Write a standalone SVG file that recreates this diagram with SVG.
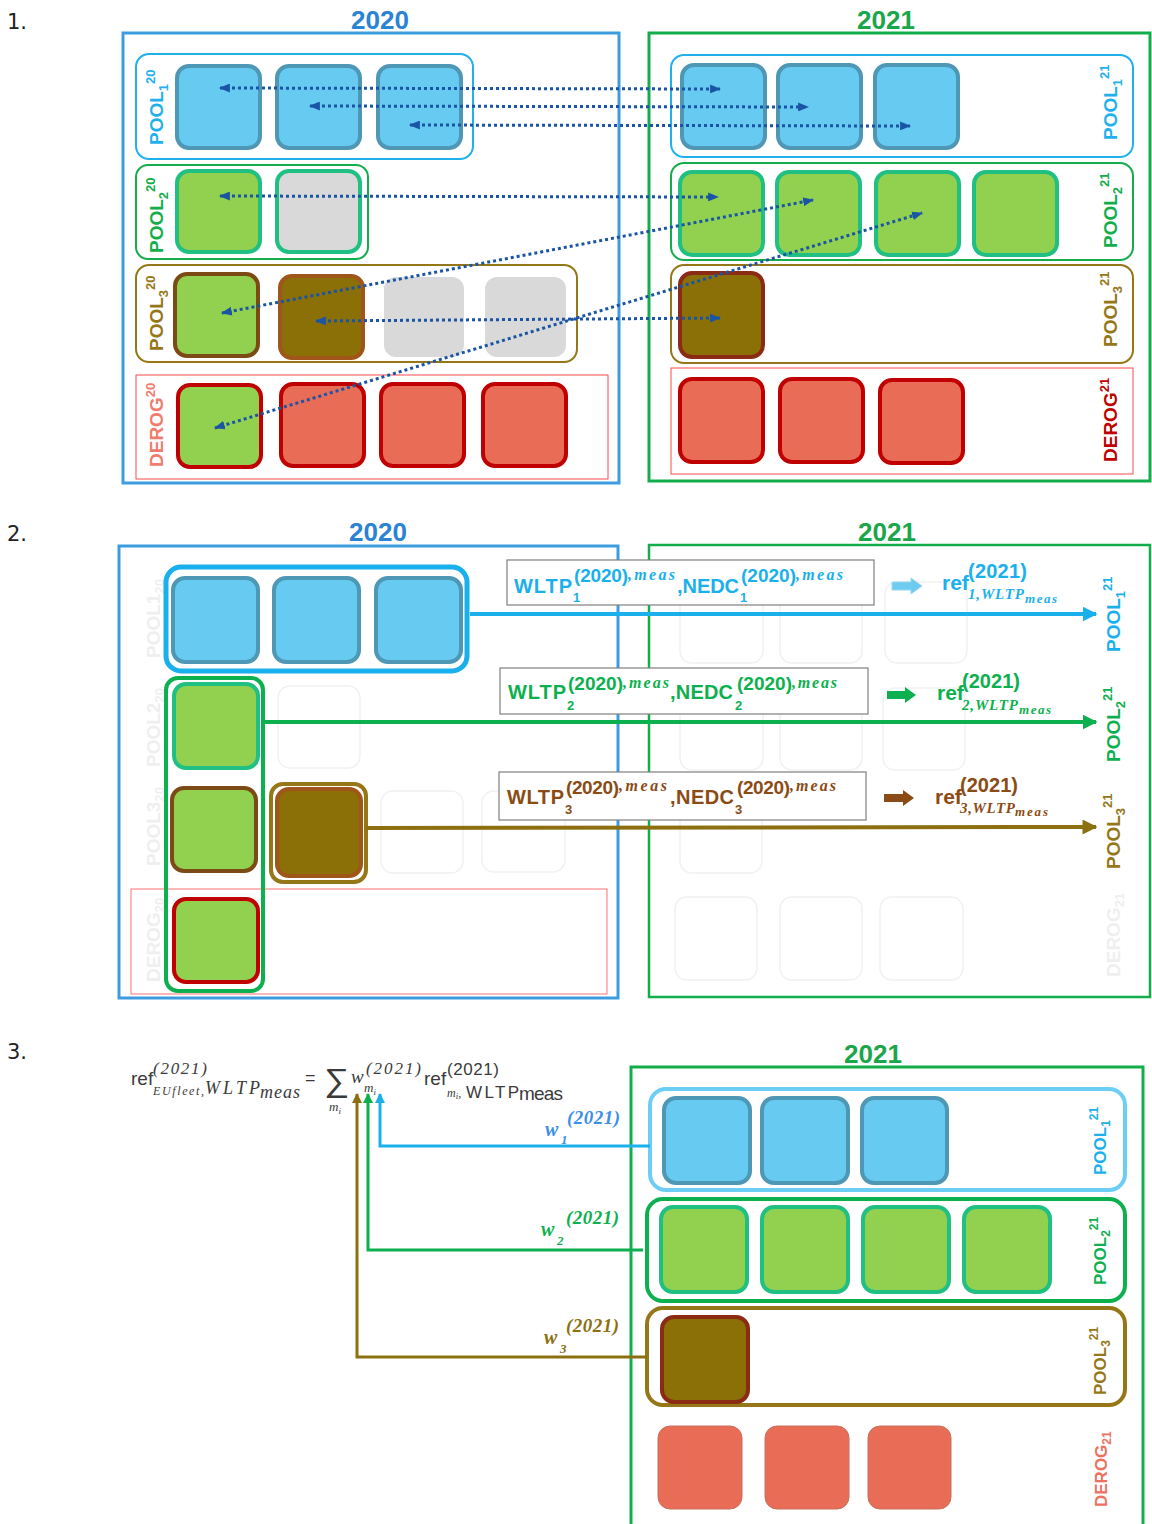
<svg xmlns="http://www.w3.org/2000/svg" width="1152" height="1524" viewBox="0 0 1152 1524">
<defs>
<style>
text{font-family:"Liberation Sans",Arial,sans-serif}
.num{font-family:"DejaVu Sans",sans-serif;font-size:21px;fill:#222}
.yr{font-size:26px;font-weight:bold}
.lbl{font-size:19px;font-weight:bold}
.lbl3{font-size:17px;font-weight:bold}
.sm{font-size:13px}
.sm3{font-size:12px}
.sqB{fill:#67caf1;stroke:#4e97b5;stroke-width:4}
.sqG{fill:#92d050;stroke:#20c083;stroke-width:4}
.sqGb{fill:#92d050;stroke:#7c4a14;stroke-width:4}
.sqGr{fill:#92d050;stroke:#c00000;stroke-width:4}
.sqGy{fill:#d9d9d9;stroke:#20c083;stroke-width:4}
.sqY{fill:#d9d9d9;stroke:none}
.sqBr{fill:#8a7006;stroke:#a0561a;stroke-width:4}
.sqBr2{fill:#8a7006;stroke:#8b2b14;stroke-width:4}
.sqR{fill:#e86c56;stroke:#c00000;stroke-width:4}
.sqR3{fill:#e86c56;stroke:#c8705c;stroke-width:1}
.faint{fill:none;stroke:#f1f1f1;stroke-width:1.5}
.ftxt{fill:#efefef}
.dot{fill:none;stroke:#1a55a5;stroke-width:3;stroke-dasharray:3 3;marker-start:url(#dh);marker-end:url(#dh)}
.mi{font-family:"Liberation Serif","DejaVu Serif",serif;font-style:italic;font-weight:bold}
.mr{font-family:"Liberation Serif","DejaVu Serif",serif;font-style:italic}
.fb{font-weight:bold}
.box{fill:#fff;stroke:#7f7f7f;stroke-width:1.2}
</style>
<marker id="dh" viewBox="0 0 10 8" refX="9" refY="4" markerWidth="11" markerHeight="9" markerUnits="userSpaceOnUse" orient="auto-start-reverse"><path d="M0,0L10,4L0,8z" fill="#1a55a5"/></marker>
<marker id="ab" viewBox="0 0 10 10" refX="9" refY="5" markerWidth="15" markerHeight="15" markerUnits="userSpaceOnUse" orient="auto"><path d="M0,0L10,5L0,10z" fill="#1ab0ec"/></marker>
<marker id="ag" viewBox="0 0 10 10" refX="9" refY="5" markerWidth="15" markerHeight="15" markerUnits="userSpaceOnUse" orient="auto"><path d="M0,0L10,5L0,10z" fill="#0db04f"/></marker>
<marker id="ao" viewBox="0 0 10 10" refX="9" refY="5" markerWidth="15" markerHeight="15" markerUnits="userSpaceOnUse" orient="auto"><path d="M0,0L10,5L0,10z" fill="#8c7010"/></marker>
<marker id="sb" viewBox="0 0 10 10" refX="9" refY="5" markerWidth="10" markerHeight="10" markerUnits="userSpaceOnUse" orient="auto"><path d="M0,0L10,5L0,10z" fill="#1ab0ec"/></marker>
<marker id="sg" viewBox="0 0 10 10" refX="9" refY="5" markerWidth="10" markerHeight="10" markerUnits="userSpaceOnUse" orient="auto"><path d="M0,0L10,5L0,10z" fill="#0db04f"/></marker>
<marker id="so" viewBox="0 0 10 10" refX="9" refY="5" markerWidth="10" markerHeight="10" markerUnits="userSpaceOnUse" orient="auto"><path d="M0,0L10,5L0,10z" fill="#8c7010"/></marker>
</defs>
<rect width="1152" height="1524" fill="#fff"/>

<!-- ============ SECTION 1 ============ -->
<g id="s1">
<text class="num" x="7" y="29">1.</text>
<text class="yr" x="380" y="29" text-anchor="middle" fill="#2b83d4">2020</text>
<text class="yr" x="886" y="29" text-anchor="middle" fill="#1aa64a">2021</text>
<rect id="s1-2020" x="123" y="33" width="496" height="450" fill="none" stroke="#3d9be0" stroke-width="3"/>
<rect id="s1-2021" x="649" y="33" width="501" height="448" fill="none" stroke="#13ae4b" stroke-width="3"/>

<g id="s1-pool1-20">
<rect x="136" y="54" width="337" height="105" rx="13" fill="none" stroke="#1fb1ec" stroke-width="2"/>
<rect class="sqB" x="177" y="66" width="83" height="82" rx="12"/>
<rect class="sqB" x="277" y="66" width="83" height="82" rx="12"/>
<rect class="sqB" x="378" y="66" width="83" height="82" rx="12"/>
<text class="lbl" fill="#1fb1ec" transform="translate(163,145) rotate(-90)">POOL<tspan class="sm" dy="5">1</tspan><tspan class="sm" dy="-13">20</tspan></text>
</g>
<g id="s1-pool2-20">
<rect x="136" y="165" width="232" height="94" rx="12" fill="none" stroke="#13ae4b" stroke-width="2"/>
<rect class="sqG" x="177" y="171" width="83" height="81" rx="12"/>
<rect class="sqGy" x="277" y="171" width="83" height="81" rx="12"/>
<text class="lbl" fill="#13ae4b" transform="translate(163,253) rotate(-90)">POOL<tspan class="sm" dy="5">2</tspan><tspan class="sm" dy="-13">20</tspan></text>
</g>
<g id="s1-pool3-20">
<rect x="136" y="265" width="441" height="97" rx="13" fill="none" stroke="#957717" stroke-width="2"/>
<rect class="sqGb" x="175" y="274" width="83" height="82" rx="12"/>
<rect class="sqBr" x="280" y="276" width="83" height="82" rx="12"/>
<rect class="sqY" x="384" y="277" width="80" height="80" rx="12"/>
<rect class="sqY" x="485" y="277" width="81" height="80" rx="12"/>
<text class="lbl" fill="#957717" transform="translate(163,351) rotate(-90)">POOL<tspan class="sm" dy="5">3</tspan><tspan class="sm" dy="-13">20</tspan></text>
</g>
<g id="s1-derog-20">
<rect x="136" y="375" width="472" height="104" fill="none" stroke="#ff4a4a" stroke-width="1"/>
<rect class="sqGr" x="178" y="385" width="83" height="82" rx="12"/>
<rect class="sqR" x="281" y="384" width="83" height="82" rx="12"/>
<rect class="sqR" x="381" y="384" width="83" height="82" rx="12"/>
<rect class="sqR" x="483" y="384" width="83" height="82" rx="12"/>
<text class="lbl" fill="#f07c6c" transform="translate(163,467) rotate(-90)">DEROG<tspan class="sm" dy="-8">20</tspan></text>
</g>

<g id="s1-pool1-21">
<rect x="671" y="55" width="462" height="102" rx="13" fill="none" stroke="#1fb1ec" stroke-width="2"/>
<rect class="sqB" x="682" y="65" width="83" height="83" rx="12"/>
<rect class="sqB" x="778" y="65" width="83" height="83" rx="12"/>
<rect class="sqB" x="875" y="65" width="83" height="83" rx="12"/>
<text class="lbl" fill="#1fb1ec" transform="translate(1117,140) rotate(-90)">POOL<tspan class="sm" dy="5">1</tspan><tspan class="sm" dy="-13">21</tspan></text>
</g>
<g id="s1-pool2-21">
<rect x="671" y="163" width="462" height="97" rx="13" fill="none" stroke="#13ae4b" stroke-width="2"/>
<rect class="sqG" x="680" y="172" width="83" height="83" rx="12"/>
<rect class="sqG" x="777" y="172" width="83" height="83" rx="12"/>
<rect class="sqG" x="876" y="172" width="83" height="83" rx="12"/>
<rect class="sqG" x="974" y="172" width="83" height="83" rx="12"/>
<text class="lbl" fill="#13ae4b" transform="translate(1117,248) rotate(-90)">POOL<tspan class="sm" dy="5">2</tspan><tspan class="sm" dy="-13">21</tspan></text>
</g>
<g id="s1-pool3-21">
<rect x="671" y="265" width="462" height="98" rx="13" fill="none" stroke="#957717" stroke-width="2"/>
<rect class="sqBr2" x="680" y="273" width="83" height="84" rx="12"/>
<text class="lbl" fill="#957717" transform="translate(1117,347) rotate(-90)">POOL<tspan class="sm" dy="5">3</tspan><tspan class="sm" dy="-13">21</tspan></text>
</g>
<g id="s1-derog-21">
<rect x="671" y="368" width="462" height="106" fill="none" stroke="#ff4a4a" stroke-width="1"/>
<rect class="sqR" x="680" y="379" width="83" height="83" rx="12"/>
<rect class="sqR" x="780" y="379" width="83" height="83" rx="12"/>
<rect class="sqR" x="880" y="380" width="83" height="83" rx="12"/>
<text class="lbl" fill="#c00000" transform="translate(1117,462) rotate(-90)">DEROG<tspan class="sm" dy="-8">21</tspan></text>
</g>

<g id="s1-connectors">
<line class="dot" x1="220" y1="88" x2="720" y2="89"/>
<line class="dot" x1="310" y1="106" x2="808" y2="107"/>
<line class="dot" x1="410" y1="125" x2="910" y2="126"/>
<line class="dot" x1="220" y1="196" x2="718" y2="197"/>
<line class="dot" x1="222" y1="313" x2="813" y2="200"/>
<line class="dot" x1="316" y1="321" x2="720" y2="318"/>
<line class="dot" x1="215" y1="428" x2="922" y2="213"/>
</g>
</g>

<!-- ============ SECTION 2 ============ -->
<g id="s2">
<text class="num" x="7" y="541">2.</text>
<text class="yr" x="378" y="541" text-anchor="middle" fill="#2b83d4">2020</text>
<text class="yr" x="887" y="541" text-anchor="middle" fill="#1aa64a">2021</text>
<rect x="119" y="546" width="499" height="452" fill="none" stroke="#3d9be0" stroke-width="3"/>
<rect x="649" y="545" width="501" height="452" fill="none" stroke="#13ae4b" stroke-width="2.5"/>

<g id="s2-faint">
<rect class="faint" x="278" y="686" width="82" height="82" rx="12"/>
<rect class="faint" x="381" y="791" width="82" height="82" rx="12"/>
<rect class="faint" x="482" y="791" width="83" height="81" rx="12"/>
<rect class="faint" x="680" y="582" width="83" height="81" rx="12"/>
<rect class="faint" x="780" y="582" width="82" height="81" rx="12"/>
<rect class="faint" x="885" y="582" width="82" height="81" rx="12"/>
<rect class="faint" x="680" y="688" width="83" height="82" rx="12"/>
<rect class="faint" x="780" y="688" width="82" height="82" rx="12"/>
<rect class="faint" x="883" y="688" width="82" height="82" rx="12"/>
<rect class="faint" x="680" y="792" width="82" height="81" rx="12"/>
<rect class="faint" x="675" y="897" width="82" height="83" rx="12"/>
<rect class="faint" x="780" y="897" width="82" height="83" rx="12"/>
<rect class="faint" x="880" y="897" width="83" height="83" rx="12"/>
<text class="lbl ftxt" transform="translate(160,658) rotate(-90)">POOL1<tspan class="sm" dy="4">20</tspan></text>
<text class="lbl ftxt" transform="translate(160,767) rotate(-90)">POOL2<tspan class="sm" dy="4">20</tspan></text>
<text class="lbl ftxt" transform="translate(160,866) rotate(-90)">POOL3<tspan class="sm" dy="4">20</tspan></text>
<text class="lbl ftxt" transform="translate(160,982) rotate(-90)">DEROG<tspan class="sm" dy="4">20</tspan></text>
<text class="lbl ftxt" transform="translate(1120,977) rotate(-90)">DEROG<tspan class="sm" dy="4">21</tspan></text>
</g>

<rect x="131" y="889" width="476" height="105" fill="none" stroke="#ff7070" stroke-width="1"/>

<g id="s2-pool1">
<rect x="166" y="567" width="301" height="104" rx="15" fill="none" stroke="#1ab0ec" stroke-width="5"/>
<rect class="sqB" x="173" y="578" width="85" height="84" rx="12"/>
<rect class="sqB" x="274" y="578" width="85" height="84" rx="12"/>
<rect class="sqB" x="376" y="578" width="85" height="84" rx="12"/>
</g>
<g id="s2-pool2">
<rect x="166" y="678" width="97" height="313" rx="12" fill="none" stroke="#0db04f" stroke-width="4"/>
<rect class="sqG" x="174" y="684" width="84" height="84" rx="12"/>
<rect class="sqGb" x="172" y="788" width="84" height="83" rx="12"/>
<rect class="sqGr" x="174" y="899" width="84" height="83" rx="12"/>
</g>
<g id="s2-pool3">
<rect x="271" y="784" width="95" height="98" rx="12" fill="none" stroke="#957717" stroke-width="4"/>
<rect class="sqBr" x="277" y="789" width="84" height="87" rx="12"/>
</g>

<g id="s2-connectors">
<line x1="470" y1="614" x2="1096" y2="614" stroke="#1ab0ec" stroke-width="4" marker-end="url(#ab)"/>
<line x1="263" y1="722" x2="1096" y2="722" stroke="#0db04f" stroke-width="4" marker-end="url(#ag)"/>
<line x1="366" y1="828" x2="1096" y2="827" stroke="#8c7010" stroke-width="4" marker-end="url(#ao)"/>
<path d="M892,582H911V578L922,586L911,594V590H892Z" fill="#6ccbef" stroke="#9ad8f2" stroke-width="1"/>
<path d="M887,691H905V687L916,695L905,703V699H887Z" fill="#0db04f"/>
<path d="M884,794H903V790L914,798L903,806V802H884Z" fill="#8b4b14"/>
</g>

<g id="s2-formula1" fill="#1ab0ec">
<rect class="box" x="507" y="560" width="367" height="45"/>
<text class="fb" x="514" y="593" font-size="20" textLength="58">WLTP</text>
<text class="fb" x="573" y="602" font-size="13">1</text>
<text class="fb" x="574" y="582" font-size="19" textLength="54">(2020)</text>
<text class="mi" x="628" y="580" font-size="16" textLength="47">,meas</text>
<text class="fb" x="677" y="593" font-size="20" textLength="62">,NEDC</text>
<text class="fb" x="740" y="602" font-size="13">1</text>
<text class="fb" x="741" y="582" font-size="19" textLength="55">(2020)</text>
<text class="mi" x="796" y="580" font-size="16" textLength="47">,meas</text>
</g>
<g id="s2-ref1" fill="#1ab0ec">
<text class="fb" x="942" y="590" font-size="21">ref</text>
<text class="fb" x="968" y="578" font-size="20" textLength="59">(2021)</text>
<text class="mi" x="968" y="599" font-size="15" textLength="56">1,WLTP</text>
<text class="mi" x="1025" y="603" font-size="13" textLength="32">meas</text>
<text class="lbl" transform="translate(1120,652) rotate(-90)">POOL<tspan class="sm" dy="5">1</tspan><tspan class="sm" dy="-13">21</tspan></text>
</g>

<g id="s2-formula2" fill="#0db04f">
<rect class="box" x="500" y="668" width="368" height="46"/>
<text class="fb" x="508" y="699" font-size="20" textLength="58">WLTP</text>
<text class="fb" x="567" y="710" font-size="13">2</text>
<text class="fb" x="568" y="690" font-size="19" textLength="55">(2020)</text>
<text class="mi" x="623" y="688" font-size="16" textLength="46">,meas</text>
<text class="fb" x="670" y="699" font-size="20" textLength="63">,NEDC</text>
<text class="fb" x="735" y="710" font-size="13">2</text>
<text class="fb" x="737" y="690" font-size="19" textLength="55">(2020)</text>
<text class="mi" x="792" y="688" font-size="16" textLength="45">,meas</text>
</g>
<g id="s2-ref2" fill="#0db04f">
<text class="fb" x="937" y="700" font-size="21">ref</text>
<text class="fb" x="962" y="688" font-size="20" textLength="58">(2021)</text>
<text class="mi" x="962" y="710" font-size="15" textLength="56">2,WLTP</text>
<text class="mi" x="1019" y="714" font-size="13" textLength="32">meas</text>
<text class="lbl" transform="translate(1120,762) rotate(-90)">POOL<tspan class="sm" dy="5">2</tspan><tspan class="sm" dy="-13">21</tspan></text>
</g>

<g id="s2-formula3" fill="#8b4b14">
<rect class="box" x="499" y="772" width="367" height="48"/>
<text class="fb" x="507" y="804" font-size="20" textLength="57">WLTP</text>
<text class="fb" x="565" y="814" font-size="13">3</text>
<text class="fb" x="566" y="794" font-size="19" textLength="53">(2020)</text>
<text class="mi" x="619" y="791" font-size="16" textLength="48">,meas</text>
<text class="fb" x="670" y="804" font-size="20" textLength="64">,NEDC</text>
<text class="fb" x="735" y="814" font-size="13">3</text>
<text class="fb" x="737" y="794" font-size="19" textLength="53">(2020)</text>
<text class="mi" x="790" y="791" font-size="16" textLength="46">,meas</text>
</g>
<g id="s2-ref3" fill="#8b4b14">
<text class="fb" x="935" y="804" font-size="21">ref</text>
<text class="fb" x="960" y="792" font-size="20" textLength="58">(2021)</text>
<text class="mi" x="960" y="813" font-size="15" textLength="55">3,WLTP</text>
<text class="mi" x="1015" y="816" font-size="13" textLength="33">meas</text>
<text class="lbl" fill="#957717" transform="translate(1120,869) rotate(-90)">POOL<tspan class="sm" dy="5">3</tspan><tspan class="sm" dy="-13">21</tspan></text>
</g>
</g>

<!-- ============ SECTION 3 ============ -->
<g id="s3">
<text class="num" x="7" y="1059">3.</text>
<text class="yr" x="873" y="1063" text-anchor="middle" fill="#1aa64a">2021</text>
<rect x="631" y="1067" width="512" height="470" fill="none" stroke="#13ae4b" stroke-width="3"/>

<g id="s3-formula" fill="#3a3a3a">
<text x="131" y="1085" font-size="19">ref</text>
<text class="mr" x="153" y="1074" font-size="17" textLength="54">(2021)</text>
<text class="mr" x="153" y="1095" font-size="12" textLength="51">EUfleet,</text>
<text class="mr" x="205" y="1094" font-size="18" textLength="55">WLTP</text>
<text class="mr" x="260" y="1098" font-size="18" textLength="40">meas</text>
<text x="305" y="1084" font-size="18">=</text>
<text x="324" y="1091" font-size="32" font-family="'DejaVu Sans',sans-serif" textLength="25" lengthAdjust="spacingAndGlyphs">∑</text>
<text class="mr" x="329" y="1111" font-size="13">m<tspan font-size="9" dy="3">i</tspan></text>
<text class="mr" x="351" y="1083" font-size="19">w</text>
<text class="mr" x="366" y="1074" font-size="17" textLength="55">(2021)</text>
<text class="mr" x="364" y="1092" font-size="13">m<tspan font-size="9" dy="3">i</tspan></text>
<text x="424" y="1085" font-size="19">ref</text>
<text x="447" y="1075" font-size="17" textLength="52">(2021)</text>
<text class="mr" x="447" y="1097" font-size="12">m<tspan font-size="9" dy="2">i</tspan><tspan dy="-2">,</tspan></text>
<text x="466" y="1098" font-size="17" textLength="53">WLTP</text>
<text x="519" y="1100" font-size="19" textLength="44">meas</text>
</g>

<g id="s3-pool1">
<rect x="650" y="1089" width="475" height="101" rx="16" fill="none" stroke="#6ccef5" stroke-width="4"/>
<rect class="sqB" x="664" y="1098" width="86" height="85" rx="12"/>
<rect class="sqB" x="762" y="1098" width="86" height="85" rx="12"/>
<rect class="sqB" x="862" y="1098" width="85" height="85" rx="12"/>
<text class="lbl3" fill="#1ab0ec" transform="translate(1106,1175) rotate(-90)">POOL<tspan class="sm3" dy="4">1</tspan><tspan class="sm3" dy="-12">21</tspan></text>
</g>
<g id="s3-pool2">
<rect x="647" y="1199" width="478" height="102" rx="16" fill="none" stroke="#0db04f" stroke-width="4"/>
<rect class="sqG" x="661" y="1207" width="86" height="85" rx="12"/>
<rect class="sqG" x="762" y="1207" width="86" height="85" rx="12"/>
<rect class="sqG" x="863" y="1207" width="86" height="85" rx="12"/>
<rect class="sqG" x="964" y="1207" width="86" height="85" rx="12"/>
<text class="lbl3" fill="#0db04f" transform="translate(1106,1285) rotate(-90)">POOL<tspan class="sm3" dy="4">2</tspan><tspan class="sm3" dy="-12">21</tspan></text>
</g>
<g id="s3-pool3">
<rect x="647" y="1308" width="478" height="97" rx="16" fill="none" stroke="#957717" stroke-width="4"/>
<rect class="sqBr2" x="662" y="1317" width="86" height="85" rx="12"/>
<text class="lbl3" fill="#957717" transform="translate(1106,1395) rotate(-90)">POOL<tspan class="sm3" dy="4">3</tspan><tspan class="sm3" dy="-12">21</tspan></text>
</g>
<g id="s3-derog">
<rect class="sqR3" x="658" y="1426" width="84" height="83" rx="12"/>
<rect class="sqR3" x="765" y="1426" width="84" height="83" rx="12"/>
<rect class="sqR3" x="868" y="1426" width="83" height="83" rx="12"/>
<text class="lbl3" fill="#ee7060" transform="translate(1107,1507) rotate(-90)">DEROG<tspan class="sm3" dy="4">21</tspan></text>
</g>

<g id="s3-connectors" fill="none" stroke-width="3">
<path d="M650,1146H380V1094" stroke="#1ab0ec" marker-end="url(#sb)"/>
<path d="M643,1250H368V1094" stroke="#0db04f" marker-end="url(#sg)"/>
<path d="M647,1357H357V1094" stroke="#8c7010" marker-end="url(#so)"/>
</g>
<g id="s3-weights">
<text class="mi" fill="#3b8fea" x="545" y="1136" font-size="20">w</text>
<text class="mi" fill="#3b8fea" x="561" y="1144" font-size="13">1</text>
<text class="mi" fill="#3b8fea" x="567" y="1124" font-size="19" textLength="53">(2021)</text>
<text class="mi" fill="#0db04f" x="541" y="1236" font-size="20">w</text>
<text class="mi" fill="#0db04f" x="557" y="1245" font-size="13">2</text>
<text class="mi" fill="#0db04f" x="566" y="1224" font-size="19" textLength="53">(2021)</text>
<text class="mi" fill="#8c7010" x="544" y="1344" font-size="20">w</text>
<text class="mi" fill="#8c7010" x="560" y="1353" font-size="13">3</text>
<text class="mi" fill="#8c7010" x="566" y="1332" font-size="19" textLength="53">(2021)</text>
</g>
</g>
</svg>
